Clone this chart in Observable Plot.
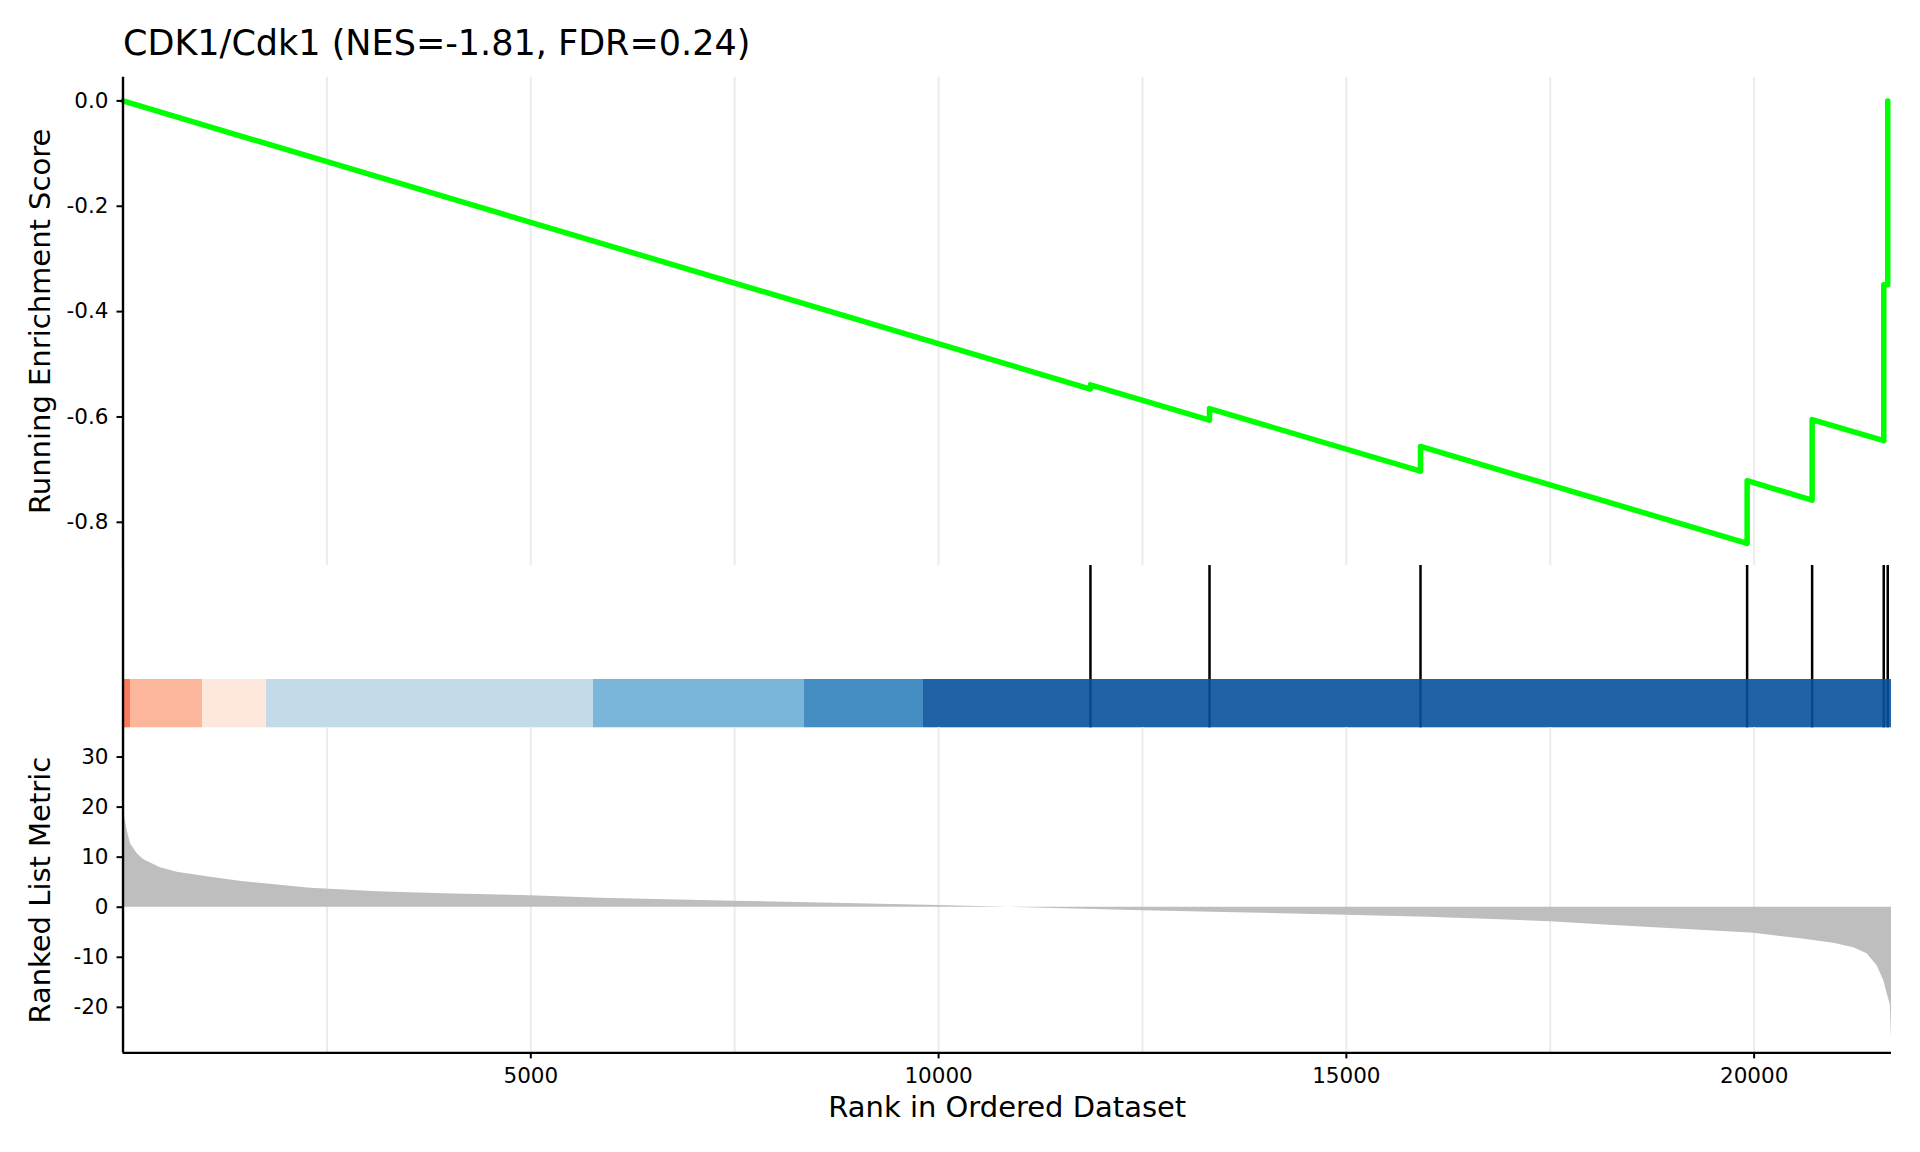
<!DOCTYPE html>
<html>
<head>
<meta charset="utf-8">
<script src="https://cdn.jsdelivr.net/npm/d3@7"></script>
<script src="https://cdn.jsdelivr.net/npm/@observablehq/plot@0.6"></script>
<style>
  html, body { margin: 0; padding: 0; background: #ffffff; }
  #chart { position: relative; width: 1920px; height: 1152px; font-family: "DejaVu Sans", sans-serif; color: #000; }
  #chart svg { position: absolute; left: 0; background: transparent; }
  #title { position: absolute; left: 123px; top: 26px; font-size: 35px; line-height: 1; white-space: nowrap; }
</style>
</head>
<body>
<div id="chart">
  <div id="title">CDK1/Cdk1 (NES=-1.81, FDR=0.24)</div>
</div>
<script>
// ---------- data ----------
const nGenes = 21684;

// running enrichment score vertices (rank, score)
const esRank  = [0, 11862, 11862, 13322, 13322, 15909, 15909, 19914, 19914, 20711, 20711, 21589, 21589, 21638, 21638];
const esScore = [0, -0.547, -0.539, -0.606, -0.584, -0.703, -0.656, -0.840, -0.721, -0.758, -0.605, -0.645, -0.349, -0.349, 0.0];

// gene-set hits
const hitRanks = [11862, 13322, 15909, 19914, 20711, 21589, 21638];

// colour bar segments
const barBin    = ["r3", "r2", "r1", "b1", "b2", "b3", "b4"];
const barStart  = [0, 92, 975, 1759, 5769, 8356, 9815];
const barEnd    = [92, 975, 1759, 5769, 8356, 9815, 21684];
const barColors = ["#fb6a4a", "#fcae91", "#fee5d9", "#bdd7e7", "#6baed6", "#3182bd", "#08519c"];

// ranked list metric
const metricRank  = [0, 20, 51, 92, 174, 255, 460, 664, 1073, 1481, 2299, 3117, 3934, 4997, 5855, 7500, 10000, 10857, 12500, 15000, 16000, 16890, 17500, 18116, 19342, 20000, 20569, 20977, 21222, 21385, 21508, 21590, 21631, 21670, 21684];
const metricValue = [20.5, 18.0, 15.3, 12.7, 10.7, 9.5, 7.9, 7.0, 6.0, 5.1, 3.8, 3.1, 2.7, 2.3, 1.8, 1.2, 0.35, 0, -0.7, -1.6, -2.0, -2.5, -2.9, -3.5, -4.6, -5.2, -6.3, -7.2, -8.1, -9.3, -11.7, -14.7, -17.3, -19.5, -26.3];

// ticks
const gridTicks   = [2500, 5000, 7500, 10000, 12500, 15000, 17500, 20000];
const xTicks      = [5000, 10000, 15000, 20000];
const esTicks     = [0, -0.2, -0.4, -0.6, -0.8];
const metricTicks = [30, 20, 10, 0, -10, -20];

// ---------- layout ----------
const W = 1920, mL = 122.5, mR = 29;
const topA = 0, bottomA = 565, bottomB = 727.3, axisC = 1052.7, H = 1152;
const esDomain = [-0.882, 0.045];
const metricDomain = [-29.1, 35.9];
const baseStyle = {background: "transparent", fontFamily: "DejaVu Sans", fontSize: "21.5px", color: "#000", overflow: "visible"};

const esData = esRank.map((r, i) => ({rank: r, es: esScore[i]}));
const barData = barStart.map((s, i) => ({x1: s, x2: barEnd[i], bin: barBin[i]}));
const metricData = metricRank.map((r, i) => ({rank: r, value: metricValue[i]}));

const chart = document.getElementById("chart");

// Panel A: running enrichment score
const panelA = Plot.plot({
  width: W, height: bottomA - topA,
  marginTop: 76.7, marginBottom: 0, marginLeft: mL, marginRight: mR,
  style: baseStyle,
  x: {domain: [0, nGenes], axis: null},
  y: {domain: esDomain, axis: null},
  marks: [
    Plot.ruleX(gridTicks, {stroke: "#ebebeb", strokeWidth: 2}),
    Plot.line(esData, {x: "rank", y: "es", stroke: "#00ff00", strokeWidth: 5.5, strokeLinejoin: "round", strokeLinecap: "round"}),
    Plot.axisY({ticks: esTicks, tickSize: 6, tickPadding: 8.5, strokeWidth: 2, label: null, tickFormat: d => d.toFixed(1)}),
    Plot.ruleX([0], {stroke: "#000", strokeWidth: 2.4}),
    Plot.text(["Running Enrichment Score"], {frameAnchor: "left", textAnchor: "middle", rotate: -90, dx: -82.5, fontSize: 29, fill: "#000"})
  ]
});
panelA.style.top = topA + "px";
chart.appendChild(panelA);

// Panel B: hits and colour bar
const panelB = Plot.plot({
  width: W, height: bottomB - bottomA,
  marginTop: 0, marginBottom: 0, marginLeft: mL, marginRight: mR,
  style: baseStyle,
  x: {domain: [0, nGenes], axis: null},
  y: {domain: [0, 1], axis: null},
  color: {type: "ordinal", domain: barBin, range: barColors},
  marks: [
    Plot.ruleX(hitRanks, {stroke: "#000", strokeWidth: 2.5}),
    Plot.rect(barData, {x1: "x1", x2: "x2", y1: 0, y2: 0.2976, fill: "bin", fillOpacity: 0.9}),
    Plot.ruleX([0], {stroke: "#000", strokeWidth: 2.4})
  ]
});
panelB.style.top = bottomA + "px";
chart.appendChild(panelB);

// Panel C: ranked list metric
const panelC = Plot.plot({
  width: W, height: H - bottomB,
  marginTop: 0, marginBottom: H - axisC, marginLeft: mL, marginRight: mR,
  style: baseStyle,
  x: {domain: [0, nGenes]},
  y: {domain: metricDomain},
  marks: [
    Plot.ruleX(gridTicks, {stroke: "#ebebeb", strokeWidth: 2}),
    Plot.areaY(metricData, {x: "rank", y: "value", fill: "#bebebe"}),
    Plot.axisY({ticks: metricTicks, tickSize: 6, tickPadding: 8.5, strokeWidth: 2, label: null, tickFormat: d => String(d)}),
    Plot.axisX({ticks: xTicks, tickSize: 6, tickPadding: 9, strokeWidth: 2, label: null, tickFormat: d => String(d)}),
    Plot.ruleX([0], {stroke: "#000", strokeWidth: 2.4}),
    Plot.ruleY([metricDomain[0]], {stroke: "#000", strokeWidth: 2.4}),
    Plot.text(["Ranked List Metric"], {frameAnchor: "left", textAnchor: "middle", rotate: -90, dx: -82.5, fontSize: 29, fill: "#000"}),
    Plot.text(["Rank in Ordered Dataset"], {frameAnchor: "bottom", textAnchor: "middle", dy: 64, fontSize: 29, fill: "#000"})
  ]
});
panelC.style.top = bottomB + "px";
chart.appendChild(panelC);
</script>
</body>
</html>
